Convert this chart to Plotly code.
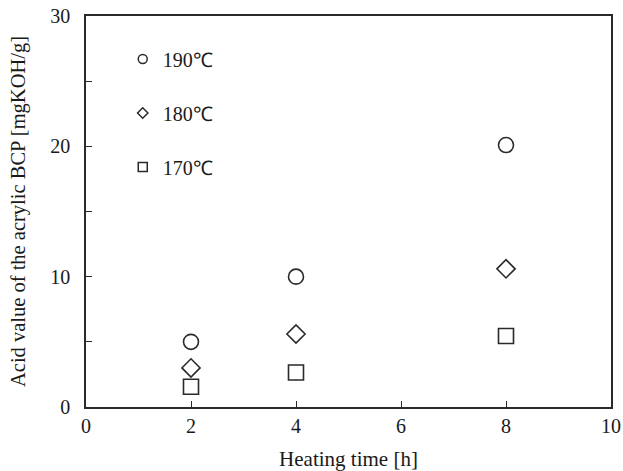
import plotly.graph_objects as go

heating_time = [2, 4, 8]
acid_190 = [5.0, 10.0, 20.1]
acid_180 = [3.0, 5.6, 10.6]
acid_170 = [1.55, 2.65, 5.45]

series = [
    ("190℃", acid_190, "circle-open", 15, 9),
    ("180℃", acid_180, "diamond-open", 14, 8),
    ("170℃", acid_170, "square-open", 15, 9),
]

font_family = "Liberation Serif, Times New Roman, serif"
ink = "#2a2a2a"

fig = go.Figure()
for i, (name, vals, sym, sz, lsz) in enumerate(series):
    fig.add_trace(go.Scatter(
        x=heating_time, y=vals, mode="markers", name=name,
        showlegend=False,
        marker=dict(symbol=sym, size=sz, color=ink, line=dict(color=ink, width=1.6)),
    ))
# legend entries (same series, smaller key symbols as in the original)
for i, (name, vals, sym, sz, lsz) in enumerate(series):
    fig.add_trace(go.Scatter(
        x=[None], y=[None], mode="markers", name=name,
        legendgroup=f"g{i}", showlegend=True,
        marker=dict(symbol=sym, size=lsz, color=ink, line=dict(color=ink, width=1.5)),
    ))

fig.update_layout(
    width=623, height=471,
    margin=dict(l=86, r=12, t=16, b=64),
    paper_bgcolor="white", plot_bgcolor="white",
    font=dict(family=font_family, size=19, color="#1a1a1a"),
    showlegend=True,
    legend=dict(
        x=0.07, y=0.94, xanchor="left", yanchor="top",
        bgcolor="rgba(0,0,0,0)", tracegroupgap=25,
        font=dict(size=20, family=font_family),
        itemsizing="trace",
    ),
    xaxis=dict(
        range=[0, 10], dtick=2, tick0=0, automargin=False,
        showgrid=False, zeroline=False,
        showline=True, linecolor=ink, linewidth=1.6, mirror=True,
        ticks="inside", ticklen=6, tickcolor=ink, tickwidth=1.3,
        title=dict(text="Heating time [h]", font=dict(size=21), standoff=16),
        tickfont=dict(size=20),
    ),
    yaxis=dict(
        range=[0, 30], dtick=10, tick0=0, automargin=False,
        showgrid=False, zeroline=False,
        showline=True, linecolor=ink, linewidth=1.6, mirror=True,
        ticks="inside", ticklen=6, tickcolor=ink, tickwidth=1.3,
        ticklabelstandoff=10,
        minor=dict(dtick=5, ticks="inside", ticklen=6, tickcolor=ink, tickwidth=1.3, showgrid=False),
        title=dict(text="Acid value of the acrylic BCP [mgKOH/g]", font=dict(size=20.5), standoff=19),
        tickfont=dict(size=20),
    ),
)

fig.write_html(
    "out.html",
    config={"displayModeBar": False},
    post_script="document.body.style.margin='0px';",
)
